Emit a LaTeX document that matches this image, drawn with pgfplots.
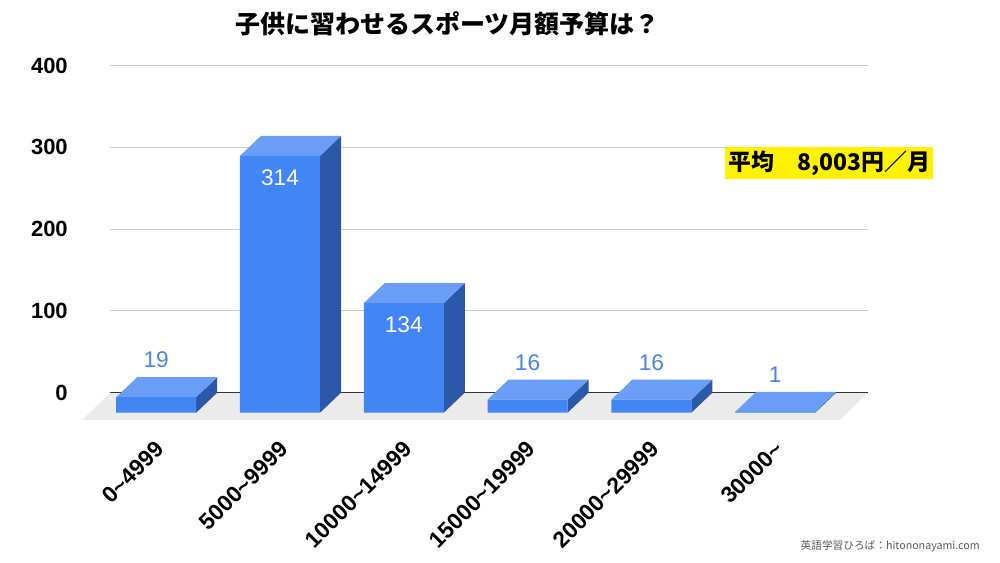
\documentclass[border=0pt]{standalone}
\usepackage{pgfplots}
\pgfplotsset{compat=1.18}
\usepackage{pgfplotstable}
\usepackage{fontspec}
\setmainfont{Liberation Sans}
\newfontfamily\cjk{Noto Sans CJK JP}
\definecolor{front}{HTML}{4285F4}
\definecolor{topc}{HTML}{6A9DF5}
\definecolor{side}{HTML}{2C58AA}
\definecolor{lbl}{HTML}{4A84E6}
\definecolor{floorc}{HTML}{EBEBEB}
\definecolor{gridc}{HTML}{CCCCCC}

\pgfplotstableread{
idx v
0 19
1 314
2 134
3 16
4 16
5 1
}\data
\pgfplotstableread{
dx a b
-0.323 1 0
-0.153 1 24.5
0.493 1 24.5
0.323 1 0
}\topface
\pgfplotstableread{
dx a b
0.323 0 0
0.323 1 0
0.493 1 24.5
0.493 0 24.5
}\sideface

\begin{document}
\begin{tikzpicture}
\path[use as bounding box] (0,0) rectangle (750pt,422.25pt);
\begin{axis}[
  at={(82.5pt,107.25pt)}, anchor=south west,
  scale only axis, width=568.5pt, height=265.875pt,
  xmin=-0.373, xmax=5.75, ymin=-8.9, ymax=424.5,
  clip=false,
  axis line style={draw=none}, tick style={draw=none},
  ytick={24.5,124.5,224.5,324.5,424.5}, yticklabels={0,100,200,300,400},
  ymajorgrids, grid style={gridc, line width=0.8pt},
  xtick={0,1,2,3,4,5},
  xticklabels={0\textasciitilde4999,5000\textasciitilde9999,10000\textasciitilde14999,15000\textasciitilde19999,20000\textasciitilde29999,30000\textasciitilde},
  yticklabel style={font=\bfseries\fontsize{16.5pt}{18pt}\selectfont, inner sep=0pt, xshift=-31.5pt, anchor=east},
  xticklabel style={font=\bfseries\fontsize{17pt}{18pt}\selectfont, inner sep=0pt, xshift=3pt, yshift=-19pt, rotate=45, anchor=east},
  /pgf/number format/assume math mode=true,
]
\addplot[fill=floorc, draw=none] coordinates {(-0.599,-8.9) (-0.373,24.5) (5.75,24.5) (5.524,-8.9)};
\addplot[color=black!80, line width=1.1pt] coordinates {(-0.373,24.5) (5.75,24.5)};
\pgfplotsinvokeforeach{0,1,2,3,4,5}{
  \pgfplotstablegetelem{#1}{v}\of\data
  \let\barv\pgfplotsretval
  \addplot[fill=side, draw=none] table[x expr=\thisrow{dx}+#1, y expr=\thisrow{a}*\barv+\thisrow{b}]{\sideface};
  \pgfplotstablegetelem{#1}{v}\of\data
  \let\barv\pgfplotsretval
  \addplot[fill=topc, draw=none] table[x expr=\thisrow{dx}+#1, y expr=\thisrow{a}*\barv+\thisrow{b}]{\topface};
}
\addplot[ybar, bar width=0.646, bar shift=0pt, fill=front, draw=none] table[x=idx, y=v]{\data};
\addplot[draw=none, restrict y to domain=0:100, nodes near coords,
  every node near coord/.append style={text=lbl, anchor=center, yshift=27.75pt, font=\fontsize{17pt}{18pt}\selectfont}]
  table[x=idx, y=v]{\data};
\addplot[draw=none, restrict y to domain=100:1000, nodes near coords,
  every node near coord/.append style={text=white, anchor=center, yshift=-16.5pt, font=\fontsize{17pt}{18pt}\selectfont}]
  table[x=idx, y=v]{\data};
\end{axis}
\node[font=\cjk\bfseries\fontsize{18.75pt}{20pt}\selectfont] at (335.6pt,404.25pt) {子供に習わせるスポーツ月額予算は？};
\node[fill=yellow, inner xsep=2.5pt, inner ysep=0pt, minimum height=24pt, font=\cjk\bfseries\fontsize{17.2pt}{18pt}\selectfont] at (622pt,300pt) {平均　8,003円／月};
\node[anchor=east, text=black!65, font=\cjk\fontsize{8pt}{9pt}\selectfont, inner sep=0pt] at (735pt,12.2pt) {英語学習ひろば：hitononayami.com};
\end{tikzpicture}
\end{document}
